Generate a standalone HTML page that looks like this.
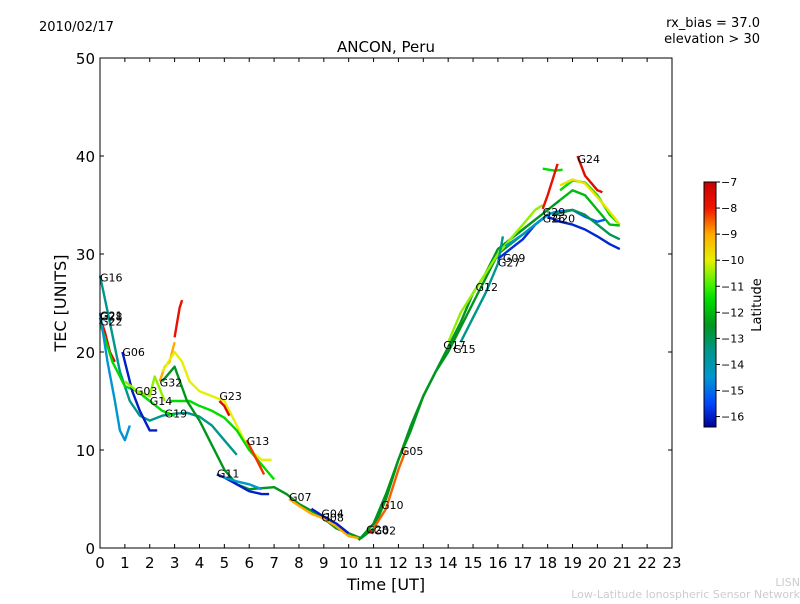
<!DOCTYPE html>
<html><head><meta charset="utf-8"><style>
body{margin:0;background:#fff;width:800px;height:600px;overflow:hidden;font-family:"DejaVu Sans","Liberation Sans",sans-serif}
</style></head><body>
<svg id="chart" width="800" height="600" xmlns="http://www.w3.org/2000/svg" font-family="DejaVu Sans, Liberation Sans, sans-serif">
<rect width="800" height="600" fill="#fff"/>
<text x="39" y="31" font-size="13">2010/02/17</text>
<text x="760" y="27" font-size="13" text-anchor="end">rx_bias = 37.0</text>
<text x="760" y="43" font-size="13" text-anchor="end">elevation &gt; 30</text>
<text x="386" y="52" font-size="15" text-anchor="middle">ANCON, Peru</text>
<g id="plot"></g>
<rect x="100" y="58" width="572" height="490" fill="none" stroke="#000" stroke-width="1"/>
<g id="axes"></g>
<text x="386" y="590" font-size="16" text-anchor="middle">Time [UT]</text>
<text x="66" y="303" font-size="16" text-anchor="middle" transform="rotate(-90 66 303)">TEC [UNITS]</text>
<defs><linearGradient id="jet" x1="0" y1="1" x2="0" y2="0"></linearGradient></defs>
<g id="cbar">
<rect x="704" y="182" width="12" height="245" fill="url(#jet)" stroke="#000" stroke-width="1"/>
</g>
<text x="761" y="305" font-size="13" text-anchor="middle" transform="rotate(-90 761 305)">Latitude</text>
<text x="800" y="586" font-size="11" fill="#ccc" text-anchor="end">LISN</text>
<text x="800" y="598" font-size="11" fill="#ccc" text-anchor="end">Low-Latitude Ionospheric Sensor Network</text>
</svg>
<script>
const xTicks=[0,1,2,3,4,5,6,7,8,9,10,11,12,13,14,15,16,17,18,19,20,21,22,23];
const yTicks=[0,10,20,30,40,50];
const cbTicks=[-7,-8,-9,-10,-11,-12,-13,-14,-15,-16];
const seriesLat=[-13.5,-7.6,-11.5,-14.5,-16,-10.5,-9,-7.8,-10,-11.5,-12.5,-7.6,-8.2,-16,-14.5,-9,-16,-7.5,-12.5,-8.5,-10.5,-13.5,-15.8,-14.3,-11.5,-7.8,-11.5,-7.6,-9.8,-12,-15.9,-15.2,-13];
const seriesT=[
[0,0.4,0.8,1.2,1.6,2,2.5,3,3.5,4,4.5,5,5.5],
[0,0.2,0.4,0.6],
[0,0.5,1,1.5,2,2.5,3],
[0,0.3,0.6,0.8,1,1.2],
[0.9,1.3,1.6,2,2.3],
[1,1.5,2,2.2,2.6],
[2.4,2.6,2.8,3],
[3,3.1,3.2,3.3],
[2.5,3,3.3,3.6,4,4.5,5,5.5,6,6.5,6.9],
[2.8,3.2,3.6,4,4.5,5,5.5,6,6.5,7],
[2.5,3,3.5,4,4.5,5,5.5,6,7,7.5,8,8.5,9,9.5,10,10.5,11,11.5,12,12.5,13,13.5,14,14.5,15,15.5,16,16.5,17,17.5,18,18.5],
[4.8,5,5.2],
[5.9,6.3,6.6],
[4.7,5,5.5,6,6.5,6.8],
[5,5.5,6,6.5],
[7.6,8,8.5,9,9.5,10,10.4],
[8.5,9,9.5,10],
[10.8,11],
[10.4,11,11.5,12,12.5,13,13.5,14,14.5,15,15.5,16,16.5,17,17.5,18],
[11,11.5,12,12.3],
[14,14.5,15,15.5,16,16.5,17,17.5,17.8],
[14.5,15,15.5,16,16.2],
[16,16.5,17,17.5,18],
[16.3,17,17.5,18,18.3],
[17.8,18.3,18.6],
[17.8,18,18.4],
[18.5,19,19.5,20,20.5,20.9],
[19.2,19.5,20,20.2],
[18.5,19,19.5,20,20.5,20.9],
[18.5,19,19.5,20,20.5,20.9],
[18,18.5,19,19.5,20,20.5,20.9],
[18.3,19,19.5,20,20.3],
[18.2,19,19.5,20,20.5,20.9]
];
const seriesV=[
[27.8,23,18,15,13.5,13,13.5,13.7,13.8,13.4,12.5,11,9.5],
[23.5,22,20,19],
[23,19,16.5,16,15,14,13.5],
[24,19,15,12,11,12.5],
[20,16,14,12,12],
[17,16,15.5,17.5,15],
[17,18.5,19,21],
[21.5,23,24.5,25.3],
[18,20,19,17,16,15.5,15,12.5,10,9,9],
[15,15,15,14.5,14,13.3,12,10,8.5,7],
[17,18.5,15,13,10.5,8,6.5,6,6.2,5.5,4.5,3.8,3,2,1.5,1,2,5,9,12.5,15.5,18,20.5,23,26,28,30.5,31.5,32.5,33.5,34.5,35.5],
[15,14.5,13.5],
[11,9,7.5],
[7.5,7.2,6.5,5.8,5.5,5.5],
[7.2,6.8,6.5,6],
[5,4.3,3.5,3,2.2,1.2,1],
[4,3.2,2.5,1.5],
[1.8,1.5],
[0.8,2.5,5.5,9,12,15.5,18,20,22.5,25,27.5,30,31,32,33,34],
[2,4,8,10],
[21,24,26,28,30,31.5,33,34.5,35],
[21,23.5,26,29,31.8],
[29.5,30.5,31.5,33,34],
[30.8,32,33,34,34.3],
[38.7,38.5,38.6],
[34.6,36,39.2],
[36.5,37.5,37.3,36,34,33],
[40,38,36.5,36.3],
[37,37.6,37.2,35.8,34.3,33],
[35.5,36.5,36,34.5,33,32.9],
[33.8,33.3,33,32.5,31.8,31,30.5],
[34.3,34.5,33.8,33.3,33.5],
[34,34.5,34,33,32,31.5]
];
const labelText=["G16","G21","G28","G22","G06","G03","G32","G14","G19","G23","G13","G11","G07","G04","G08","G28","G02","G10","G05","G17","G15","G12","G27","G09","G29","G26","G20","G24"];
const labelT=[0,0,0,0,0.9,1.4,2.4,2,2.6,4.8,5.9,4.7,7.6,8.9,8.9,10.7,11,11.3,12.1,13.8,14.2,15.1,16,16.2,17.8,17.8,18.2,19.2];
const labelV=[27.2,23.3,23.2,22.7,19.6,15.6,16.5,14.6,13.3,15.1,10.5,7.2,4.8,3.1,2.7,1.5,1.4,4,9.5,20.3,19.9,26.2,28.7,29.2,33.9,33.2,33.2,39.3];
const NS='http://www.w3.org/2000/svg';
const X0=100,X1=672,Y0=548,Y1=58;
function sx(t){return X0+(t-0)/(23-0)*(X1-X0);}
function sy(v){return Y0-(v-0)/(50-0)*(Y0-Y1);}
const LMIN=-16.4,LMAX=-7,CB0=427,CB1=182;
function cy(l){return CB0-(l-LMIN)/(LMAX-LMIN)*(CB0-CB1);}
const cmLat=[-16.4,-15.5,-14.5,-13.5,-12.5,-11.5,-11,-10,-9,-8,-7];
const cmRGB=[[0,0,150],[0,70,255],[0,150,210],[0,150,140],[0,150,30],[0,220,0],[60,240,0],[230,240,0],[255,170,0],[240,20,0],[200,0,0]];
function jet(l){l=Math.max(LMIN,Math.min(LMAX,l));
 for(let i=0;i<cmLat.length-1;i++){if(l<=cmLat[i+1]){const f=(l-cmLat[i])/(cmLat[i+1]-cmLat[i]);
  const c=cmRGB[i].map((a,k)=>Math.round(a+(cmRGB[i+1][k]-a)*f));return 'rgb('+c.join(',')+')';}}
 return 'rgb(200,0,0)';}
const grad=document.getElementById('jet');
cmLat.forEach((l,i)=>{const s=document.createElementNS(NS,'stop');s.setAttribute('offset',((l-LMIN)/(LMAX-LMIN)).toFixed(3));s.setAttribute('stop-color','rgb('+cmRGB[i].join(',')+')');grad.appendChild(s);});
const plot=document.getElementById('plot'),axes=document.getElementById('axes'),cbar=document.getElementById('cbar');
for(let i=0;i<seriesT.length;i++){
 const p=document.createElementNS(NS,'polyline');
 p.setAttribute('points',seriesT[i].map((t,j)=>sx(t).toFixed(1)+','+sy(seriesV[i][j]).toFixed(1)).join(' '));
 p.setAttribute('fill','none');p.setAttribute('stroke',jet(seriesLat[i]));p.setAttribute('stroke-width','2.4');p.setAttribute('stroke-linejoin','round');
 
 
 plot.appendChild(p);}
for(let i=0;i<labelText.length;i++){
 const tx=document.createElementNS(NS,'text');
 tx.setAttribute('x',sx(labelT[i]));tx.setAttribute('y',sy(labelV[i]));tx.setAttribute('font-size','11');tx.textContent=labelText[i];
 
 
 plot.appendChild(tx);}
xTicks.forEach(t=>{
 const l=document.createElementNS(NS,'line');l.setAttribute('x1',sx(t));l.setAttribute('x2',sx(t));l.setAttribute('y1',Y0);l.setAttribute('y2',Y0-4);l.setAttribute('stroke','#000');
 
 
 axes.appendChild(l);
 const l2=l.cloneNode();l2.setAttribute('y1',Y1);l2.setAttribute('y2',Y1+4);axes.appendChild(l2);
 const tx=document.createElementNS(NS,'text');tx.setAttribute('x',sx(t));tx.setAttribute('y',Y0+20);tx.setAttribute('font-size','15');tx.setAttribute('text-anchor','middle');tx.textContent=t;
 
 
 axes.appendChild(tx);});
yTicks.forEach(v=>{
 const l=document.createElementNS(NS,'line');l.setAttribute('x1',X0);l.setAttribute('x2',X0+4);l.setAttribute('y1',sy(v));l.setAttribute('y2',sy(v));l.setAttribute('stroke','#000');
 
 
 axes.appendChild(l);
 const l2=l.cloneNode();l2.setAttribute('x1',X1);l2.setAttribute('x2',X1-4);axes.appendChild(l2);
 const tx=document.createElementNS(NS,'text');tx.setAttribute('x',X0-5);tx.setAttribute('y',sy(v)+6);tx.setAttribute('font-size','15');tx.setAttribute('text-anchor','end');tx.textContent=v;
 
 
 axes.appendChild(tx);});
cbTicks.forEach(v=>{
 const l=document.createElementNS(NS,'line');l.setAttribute('x1',716);l.setAttribute('x2',720);l.setAttribute('y1',cy(v));l.setAttribute('y2',cy(v));l.setAttribute('stroke','#000');
 
 
 cbar.appendChild(l);
 const tx=document.createElementNS(NS,'text');tx.setAttribute('x',721);tx.setAttribute('y',cy(v)+4);tx.setAttribute('font-size','11');tx.textContent='\u2212'+Math.abs(v);
 
 
 cbar.appendChild(tx);});
</script>
</body></html>
